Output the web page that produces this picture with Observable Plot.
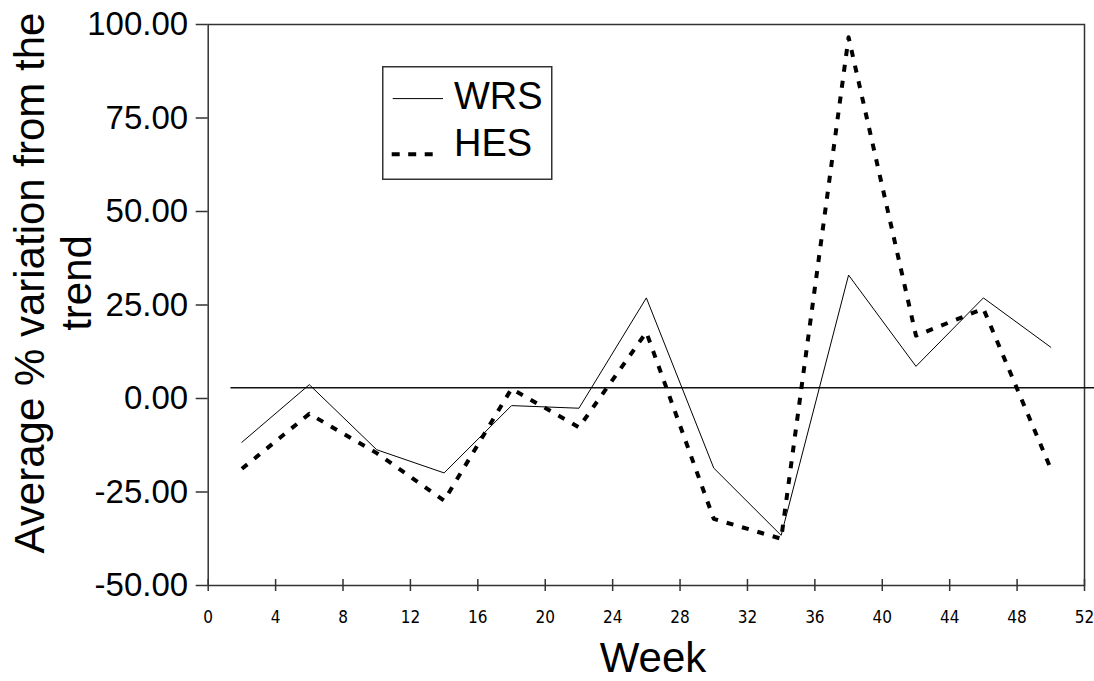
<!DOCTYPE html>
<html>
<head>
<meta charset="utf-8">
<script src="https://cdn.jsdelivr.net/npm/d3@7"></script>
<script src="https://cdn.jsdelivr.net/npm/@observablehq/plot@0.6"></script>
<style>
  body { margin: 0; background: #fff; }
  #chart { position: relative; width: 1094px; height: 681px; font-family: "Liberation Sans", Arial, sans-serif; }
  #legend { position: absolute; left: 382px; top: 66px; }
</style>
</head>
<body>
<div id="chart"></div>
<script>
// Weekly average % variation from the trend, two survey series
const weeks = [2, 6, 10, 14, 18, 22, 26, 30, 34, 38, 42, 46, 50];
const wrs = [-11.7, 3.7, -13.7, -19.9, -1.9, -2.6, 26.9, -18.6, -36.6, 33.0, 8.6, 26.9, 13.7];
const hes = [-18.8, -4.1, -14.6, -27.3, 2.6, -7.7, 17.7, -32.2, -37.5, 96.6, 16.8, 24.0, -18.8];

const seriesNames = ["WRS", "HES"];
const yTicks = [-50, -25, 0, 25, 50, 75, 100];
const xTicks = [0, 4, 8, 12, 16, 20, 24, 28, 32, 36, 40, 44, 48, 52];

// horizontal reference level and the week span it covers
const trendLevel = 2.9;
const trendSpan = [1.35, 52.6];

const yTitle = ["Average % variation from the", "trend"];
const xTitle = "Week";

const rowsWRS = weeks.map((w, i) => ({week: w, value: wrs[i]}));
const rowsHES = weeks.map((w, i) => ({week: w, value: hes[i]}));

const font = "Liberation Sans, Arial, sans-serif";
const narrow = "Liberation Sans Narrow, Arial Narrow, DejaVu Sans Condensed, sans-serif";
const dash = "7,9";

const chart = Plot.plot({
  width: 1094,
  height: 681,
  marginLeft: 207.7,
  marginRight: 10,
  marginTop: 24,
  marginBottom: 96,
  style: {fontFamily: font, color: "#000", background: "#fff"},
  x: {domain: [0, 52], axis: null},
  y: {domain: [-50, 100], axis: null},
  marks: [
    Plot.frame({stroke: "#333", strokeWidth: 1.5}),
    Plot.axisY(yTicks, {
      tickSize: 12, tickPadding: 8, fontSize: 33, fontFamily: font,
      tickFormat: d => d.toFixed(2), stroke: "#333", strokeWidth: 1.5, fill: "#000", label: null
    }),
    Plot.axisX(xTicks, {
      tickSize: 12, dy: -6, tickPadding: 19, fontSize: 17, fontFamily: narrow,
      tickFormat: d => String(d), stroke: "#333", strokeWidth: 1.5, fill: "#000", label: null
    }),
    Plot.ruleY([trendLevel], {x1: trendSpan[0], x2: trendSpan[1], stroke: "#111", strokeWidth: 1.5}),
    Plot.line(rowsWRS, {x: "week", y: "value", stroke: "#000", strokeWidth: 1}),
    Plot.line(rowsHES, {x: "week", y: "value", stroke: "#000", strokeWidth: 4, strokeDasharray: dash, strokeLinecap: "butt"}),
    Plot.text([yTitle[0]], {text: d => d, frameAnchor: "left", textAnchor: "middle", lineAnchor: "middle", rotate: -90, dx: -178, dy: -22, fontSize: 42, fontFamily: font, fill: "#000"}),
    Plot.text([yTitle[1]], {text: d => d, frameAnchor: "left", textAnchor: "middle", lineAnchor: "middle", rotate: -90, dx: -131, dy: -22, fontSize: 42, fontFamily: font, fill: "#000"}),
    Plot.text([xTitle], {text: d => d, frameAnchor: "bottom", textAnchor: "middle", lineAnchor: "middle", dx: 6.6, dy: 73.5, fontSize: 42, fontFamily: font, fill: "#000"})
  ]
});

const root = document.getElementById("chart");
root.appendChild(chart);

// Legend box with line samples
const ns = "http://www.w3.org/2000/svg";
const leg = document.createElementNS(ns, "svg");
leg.setAttribute("id", "legend");
leg.setAttribute("width", 172);
leg.setAttribute("height", 115);
const styles = [
  {dash: null, width: 1, x1: 10.7, x2: 61, y: 32.6, ty: 43.3},
  {dash: "8,8.5", width: 4, x1: 9.7, x2: 53, y: 88.3, ty: 90.3}
];
const box = document.createElementNS(ns, "rect");
box.setAttribute("x", 0.75); box.setAttribute("y", 0.75);
box.setAttribute("width", 169); box.setAttribute("height", 112.5);
box.setAttribute("fill", "#fff"); box.setAttribute("stroke", "#333"); box.setAttribute("stroke-width", 1.5);
leg.appendChild(box);
seriesNames.forEach((name, i) => {
  const s = styles[i];
  const ln = document.createElementNS(ns, "line");
  ln.setAttribute("x1", s.x1); ln.setAttribute("x2", s.x2);
  ln.setAttribute("y1", s.y); ln.setAttribute("y2", s.y);
  ln.setAttribute("stroke", "#000"); ln.setAttribute("stroke-width", s.width);
  if (s.dash) ln.setAttribute("stroke-dasharray", s.dash);
  leg.appendChild(ln);
  const t = document.createElementNS(ns, "text");
  t.setAttribute("x", 72); t.setAttribute("y", s.ty);
  t.setAttribute("font-size", 38); t.setAttribute("font-family", font);
  t.textContent = name;
  leg.appendChild(t);
});
root.appendChild(leg);
</script>
</body>
</html>
